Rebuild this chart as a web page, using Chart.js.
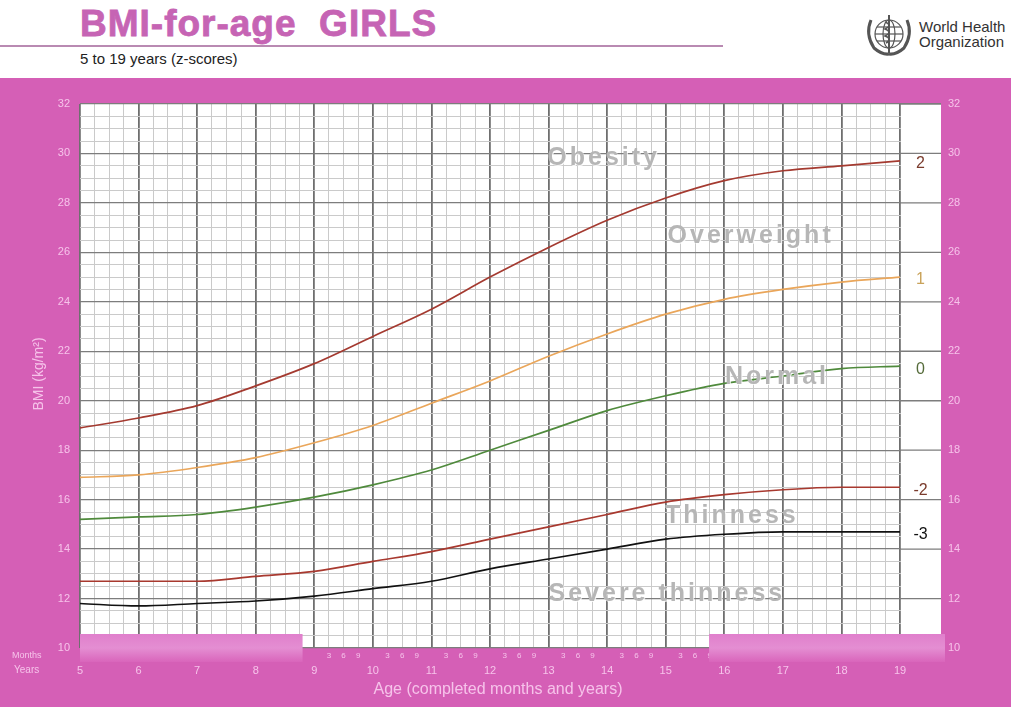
<!DOCTYPE html>
<html><head><meta charset="utf-8">
<script src="https://cdn.jsdelivr.net/npm/chart.js@4.4.0/dist/chart.umd.min.js"></script>
<style>
html,body{margin:0;padding:0;width:1011px;height:707px;overflow:hidden;background:#fff;font-family:"Liberation Sans",Arial,sans-serif;}
#title{position:absolute;left:80px;top:3px;font-size:37px;font-weight:bold;color:#c664b4;white-space:pre;letter-spacing:1px;-webkit-text-stroke:0.8px #c664b4;}
#rule{position:absolute;left:0;top:45px;width:723px;height:2px;background:#b98ab2;}
#sub{position:absolute;left:80px;top:50px;font-size:15px;color:#222;}
#logo{position:absolute;left:862px;top:12px;}
#who{position:absolute;left:919px;top:19px;font-size:15px;line-height:15px;color:#333;}
#wrap{position:absolute;left:0;top:78px;width:1011px;height:629px;}
.lbl{position:absolute;color:#f6c3ea;}
</style></head>
<body>
<div id="title">BMI-for-age  GIRLS</div>
<div id="rule"></div>
<div id="sub">5 to 19 years (z-scores)</div>
<svg id="logo" width="54" height="46" viewBox="0 0 54 46">
  <g fill="none" stroke="#555" stroke-width="1.2">
    <circle cx="27" cy="22" r="14"/>
    <ellipse cx="27" cy="22" rx="6" ry="14"/>
    <line x1="13" y1="22" x2="41" y2="22"/>
    <line x1="15" y1="15" x2="39" y2="15"/>
    <line x1="15" y1="29" x2="39" y2="29"/>
    <path d="M9 8 Q3 22 12 36 Q20 43 27 42" stroke-width="3"/>
    <path d="M45 8 Q51 22 42 36 Q34 43 27 42" stroke-width="3"/>
    <line x1="27" y1="3" x2="27" y2="41" stroke-width="2"/>
    <path d="M23 10 Q31 13 23 17 Q31 20 23 24 Q31 27 24 31" stroke-width="1.6"/>
  </g>
</svg>
<div id="who">World Health<br>Organization</div>
<div id="wrap"><canvas id="c" width="1011" height="629"></canvas></div>
<div class="lbl" style="left:12px;top:650px;font-size:9px;">Months</div>
<div class="lbl" style="left:14px;top:664px;font-size:10px;">Years</div>
<div class="lbl" style="left:0;width:996px;text-align:center;top:680px;font-size:16px;">Age (completed months and years)</div>
<div class="lbl" style="left:-12px;top:366px;width:100px;text-align:center;font-size:14px;transform:rotate(-90deg);">BMI (kg/m²)</div>
<script>
// ---- data ----
const ages = [5,6,7,8,9,10,11,12,13,14,15,16,17,18,19];
const sdPlus2  = [18.9,19.3,19.8,20.6,21.5,22.6,23.7,25.0,26.2,27.3,28.2,28.9,29.3,29.5,29.7];
const sdPlus1  = [16.9,17.0,17.3,17.7,18.3,19.0,19.9,20.8,21.8,22.7,23.5,24.1,24.5,24.8,25.0];
const sdZero   = [15.2,15.3,15.4,15.7,16.1,16.6,17.2,18.0,18.8,19.6,20.2,20.7,21.0,21.3,21.4];
const sdMinus2 = [12.7,12.7,12.7,12.9,13.1,13.5,13.9,14.4,14.9,15.4,15.9,16.2,16.4,16.5,16.5];
const sdMinus3 = [11.8,11.7,11.8,11.9,12.1,12.4,12.7,13.2,13.6,14.0,14.4,14.6,14.7,14.7,14.7];
const curveLabels = ['2','1','0','-2','-3'];
const monthLabels = ['3','6','9'];
const zoneLabels = ['Obesity','Overweight','Normal','Thinness','Severe thinness'];
const zoneAt = [[13.94,29.82],[16.45,26.67],[16.9,20.94],[16.13,15.33],[15.02,12.18]];

const PINK = '#d55fb6';
const TICK = '#f6c3ea';
const colors = ['#a43a30','#eaa65a','#4f8a3c','#a8392f','#111111'];
const labelColors = ['#7a3b2c','#c9a25a','#556b3a','#7a3b2c','#111111'];
const series = [sdPlus2, sdPlus1, sdZero, sdMinus2, sdMinus3];

const bgPlugin = {
  id:'bg',
  beforeDraw(chart){
    const {ctx, chartArea:a, width, height} = chart;
    ctx.save();
    ctx.fillStyle = PINK; ctx.fillRect(0,0,width,height);
    ctx.fillStyle = '#fff'; ctx.fillRect(a.left, a.top, a.right-a.left, a.bottom-a.top);
    ctx.restore();
  },
  beforeDatasetsDraw(chart){
    const {ctx, chartArea:a, scales} = chart;
    const x19 = scales.x.getPixelForValue(19);
    ctx.save();
    ctx.fillStyle = '#fff';
    ctx.fillRect(x19+1, a.top, a.right-x19-1, a.bottom-a.top);
    ctx.strokeStyle = '#7d7d7d'; ctx.lineWidth = 1.3;
    for (let v = 10; v <= 32; v += 2) {
      const y = scales.y.getPixelForValue(v);
      ctx.beginPath(); ctx.moveTo(x19, y); ctx.lineTo(a.right, y); ctx.stroke();
    }
    ctx.restore();
  },
  afterDatasetsDraw(chart){
    const {ctx, scales} = chart;
    ctx.save();
    ctx.font = 'bold 25px "Liberation Sans", Arial, sans-serif';
    try { ctx.letterSpacing = '3px'; } catch(e) {}
    ctx.textAlign = 'center'; ctx.textBaseline = 'middle';
    zoneLabels.forEach((t,i)=>{
      const x = scales.x.getPixelForValue(zoneAt[i][0]);
      const y = scales.y.getPixelForValue(zoneAt[i][1]);
      ctx.fillStyle = 'rgba(255,255,255,0.8)';
      ctx.fillText(t, x+1, y+1);
      ctx.fillStyle = '#b6b6b6';
      ctx.fillText(t, x, y);
    });
    try { ctx.letterSpacing = '0px'; } catch(e) {}
    ctx.font = '16px "Liberation Sans", Arial, sans-serif';
    const xl = (scales.x.getPixelForValue(19) + chart.chartArea.right)/2;
    series.forEach((s,i)=>{
      ctx.fillStyle = labelColors[i];
      ctx.fillText(curveLabels[i], xl, scales.y.getPixelForValue(s[s.length-1]) + 3);
    });
    ctx.restore();
  },
  afterDraw(chart){
    const {ctx, scales} = chart;
    const yTop = chart.chartArea.bottom - 14;
    ctx.save();
    const boxes = [[scales.x.getPixelForValue(5), scales.x.getPixelForValue(8.8)],
                   [scales.x.getPixelForValue(15.74), chart.chartArea.right + 4]];
    boxes.forEach(([x0,x1])=>{
      const g = ctx.createLinearGradient(0, yTop, 0, yTop+28);
      g.addColorStop(0, '#e07fcc'); g.addColorStop(0.5, '#e48ed2'); g.addColorStop(1, '#d965bb');
      ctx.fillStyle = g;
      ctx.fillRect(x0, yTop, x1-x0, 28);
    });
    ctx.restore();
  }
};

const datasets = series.map((s,i)=>({
  data: ages.map((a,j)=>({x:a, y:s[j]})),
  borderColor: colors[i], borderWidth: 1.7, pointRadius: 0,
  cubicInterpolationMode: 'monotone', fill: false, yAxisID: 'y', xAxisID: 'x'
}));

function monthTick(v){
  const yr = Math.floor(v + 1e-6);
  const q = Math.round((v - yr)*4);
  if (q === 0) return '';
  if (yr < 9 || yr > 15) return '';
  return monthLabels[q-1];
}

new Chart(document.getElementById('c'), {
  type: 'line',
  data: { datasets },
  plugins: [bgPlugin],
  options: {
    responsive: false, animation: false,
    layout: { padding: { top: 26, left: 0, right: 0, bottom: 0 } },
    plugins: { legend: { display: false }, tooltip: { enabled: false } },
    scales: {
      x: {
        type: 'linear', min: 5, max: 19.7, position: 'bottom', weight: 0,
        afterBuildTicks: s => { s.ticks = s.ticks.filter(t => t.value <= 19.001); },
        afterFit: s => { s.height = 14; },
        ticks: { stepSize: 0.25, autoSkip: false, maxRotation: 0, padding: 3,
                 color: TICK, font: { size: 8, family: '"Liberation Sans", Arial' }, callback: monthTick },
        grid: { drawTicks: false,
                color: c => Math.abs(c.tick.value - Math.round(c.tick.value)) < 1e-6 ? '#6f6f6f' : '#cacaca',
                lineWidth: c => Math.abs(c.tick.value - Math.round(c.tick.value)) < 1e-6 ? 1.8 : 1 },
        border: { display: false }
      },
      xYears: {
        type: 'linear', min: 5, max: 19.7, position: 'bottom', weight: 1,
        afterBuildTicks: s => { s.ticks = s.ticks.filter(t => t.value <= 19.001); },
        afterFit: s => { s.height = 45; },
        ticks: { stepSize: 1, autoSkip: false, maxRotation: 0, padding: 2,
                 color: TICK, font: { size: 11, family: '"Liberation Sans", Arial' } },
        grid: { display: false, drawTicks: false }, border: { display: false }
      },
      y: {
        min: 10, max: 32, position: 'left',
        afterFit: s => { s.width = 80; },
        ticks: { stepSize: 0.5, autoSkip: false, padding: 10, color: TICK,
                 font: { size: 11, family: '"Liberation Sans", Arial' },
                 callback: v => (Math.abs(v % 2) < 1e-6 ? String(v) : '') },
        grid: { drawTicks: false,
                color: c => Math.abs(c.tick.value % 2) < 1e-6 ? '#7d7d7d' : '#cacaca',
                lineWidth: c => Math.abs(c.tick.value % 2) < 1e-6 ? 1.3 : 1 },
        border: { display: false }
      },
      y2: {
        min: 10, max: 32, position: 'right',
        afterFit: s => { s.width = 70; },
        ticks: { stepSize: 2, padding: 7, color: TICK, font: { size: 11, family: '"Liberation Sans", Arial' } },
        grid: { display: false, drawTicks: false }, border: { display: false }
      }
    }
  }
});
</script>
</body></html>
